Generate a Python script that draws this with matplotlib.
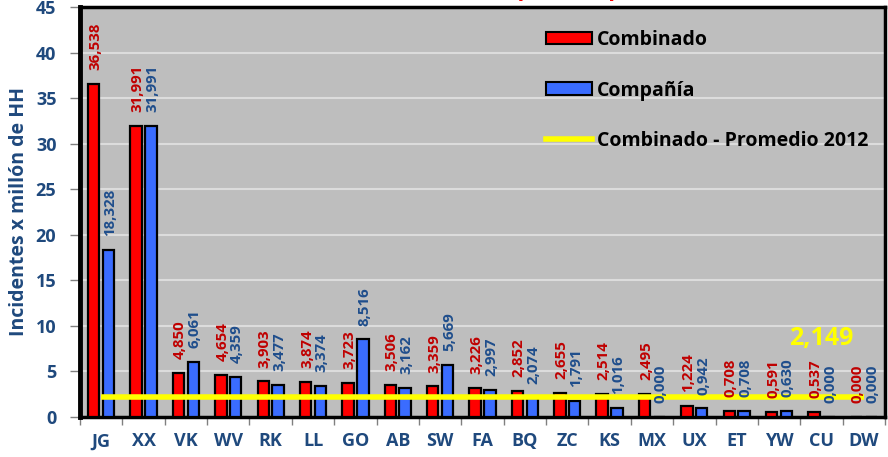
import matplotlib
matplotlib.use("Agg")
import matplotlib.pyplot as plt
import numpy as np
from matplotlib.patches import Patch
from matplotlib.lines import Line2D

categories = ["JG", "XX", "VK", "WV", "RK", "LL", "GO", "AB", "SW", "FA",
              "BQ", "ZC", "KS", "MX", "UX", "ET", "YW", "CU", "DW"]
combinado = [36.538, 31.991, 4.850, 4.654, 3.903, 3.874, 3.723, 3.506, 3.359, 3.226,
             2.852, 2.655, 2.514, 2.495, 1.224, 0.708, 0.591, 0.537, 0.000]
compania = [18.328, 31.991, 6.061, 4.359, 3.477, 3.374, 8.516, 3.162, 5.669, 2.997,
            2.074, 1.791, 1.016, 0.000, 0.942, 0.708, 0.630, 0.000, 0.000]
promedio_2012 = 2.149
yticks = [0, 5, 10, 15, 20, 25, 30, 35, 40, 45]

plt.rcParams['font.family'] = ['Open Sans', 'DejaVu Sans']
plt.rcParams['font.weight'] = 'bold'

W, H = 888, 457
fig = plt.figure(figsize=(W / 100, H / 100), dpi=100)
fig.patch.set_facecolor('white')
ax = fig.add_axes([80 / W, (H - 417) / H, (885 - 80) / W, (417 - 7) / H])
ax.set_facecolor('#BEBEBE')

axis_blue = '#1F497D'
lab_red = '#C00000'
lab_blue = '#1F4E8C'
red = '#FF0000'
blue = '#3A6CFF'

x = np.arange(len(categories))
bw = 0.27
off = 0.175
ax.bar(x - off, combinado, bw, color=red, edgecolor='black', linewidth=1.6, zorder=3)
ax.bar(x + off, compania, bw, color=blue, edgecolor='black', linewidth=1.6, zorder=3)

ax.plot([x[0], x[-1]], [promedio_2012, promedio_2012], color='#FFFF00', lw=4, zorder=5,
        solid_capstyle='butt')

def fmt(v):
    return f"{v:.3f}".replace('.', ',')

for xi, v in zip(x, combinado):
    ax.annotate(fmt(v), (xi - off, v), xytext=(1, 10), textcoords='offset points',
                rotation=90, ha='center', va='bottom', color=lab_red,
                fontsize=10.8, fontweight='bold', zorder=6)
for xi, v in zip(x, compania):
    ax.annotate(fmt(v), (xi + off, v), xytext=(1, 10), textcoords='offset points',
                rotation=90, ha='center', va='bottom', color=lab_blue,
                fontsize=10.8, fontweight='bold', zorder=6)

ax.annotate(fmt(promedio_2012), (x[-2], promedio_2012), xytext=(0, 42.5),
            textcoords='offset points', ha='center', va='center',
            color='#FFFF00', fontsize=18, fontweight='bold', zorder=6)

ax.set_xlim(-0.5, len(categories) - 0.5)
ax.set_ylim(0, 45)
ax.set_yticks(yticks)
ax.set_yticklabels([str(t) for t in yticks], color=axis_blue, fontsize=13, fontweight='bold')
ax.yaxis.grid(True, color='#DCDCDC', lw=1.5, zorder=0)
ax.set_axisbelow(True)
ax.tick_params(axis='y', length=7, width=1, color='#808080', pad=10)

ax.set_xticks(x)
ax.set_xticklabels(categories, color=axis_blue, fontsize=13, fontweight='bold')
ax.tick_params(axis='x', length=0, pad=11)
ax.set_xticks(np.arange(-0.5, len(categories) + 0.5, 1), minor=True)
ax.tick_params(axis='x', which='minor', length=6, width=1, color='#808080')

for s in ['left', 'top', 'right', 'bottom']:
    ax.spines[s].set_color('black')
ax.spines['left'].set_linewidth(3.5)
ax.spines['top'].set_linewidth(2.5)
ax.spines['right'].set_linewidth(2.5)
ax.spines['bottom'].set_linewidth(2.5)

ax.set_ylabel('Incidentes x millón de HH', color=axis_blue, fontsize=14,
              fontweight='bold', labelpad=5)

handles = [Patch(facecolor=red, edgecolor='black', linewidth=1.5),
           Patch(facecolor=blue, edgecolor='black', linewidth=1.5),
           Line2D([0], [0], color='#FFFF00', lw=4)]
labels = ['Combinado', 'Compañía', 'Combinado - Promedio 2012']
leg = ax.legend(handles, labels, loc='upper left',
                bbox_to_anchor=(546 / W, 1 - 30 / H), bbox_transform=fig.transFigure,
                frameon=False, fontsize=14, handlelength=2.37, handleheight=0.62,
                handletextpad=0.25, labelspacing=1.57, borderpad=0, borderaxespad=0)
for t in leg.get_texts():
    t.set_fontweight('bold')
    t.set_color('black')

fig.text(594 / W, 1 + 4 / H, '(por compañía)', ha='center', va='baseline',
         color='#FF0000', fontsize=16, fontweight='bold')

fig.savefig('out.png', dpi=100)
